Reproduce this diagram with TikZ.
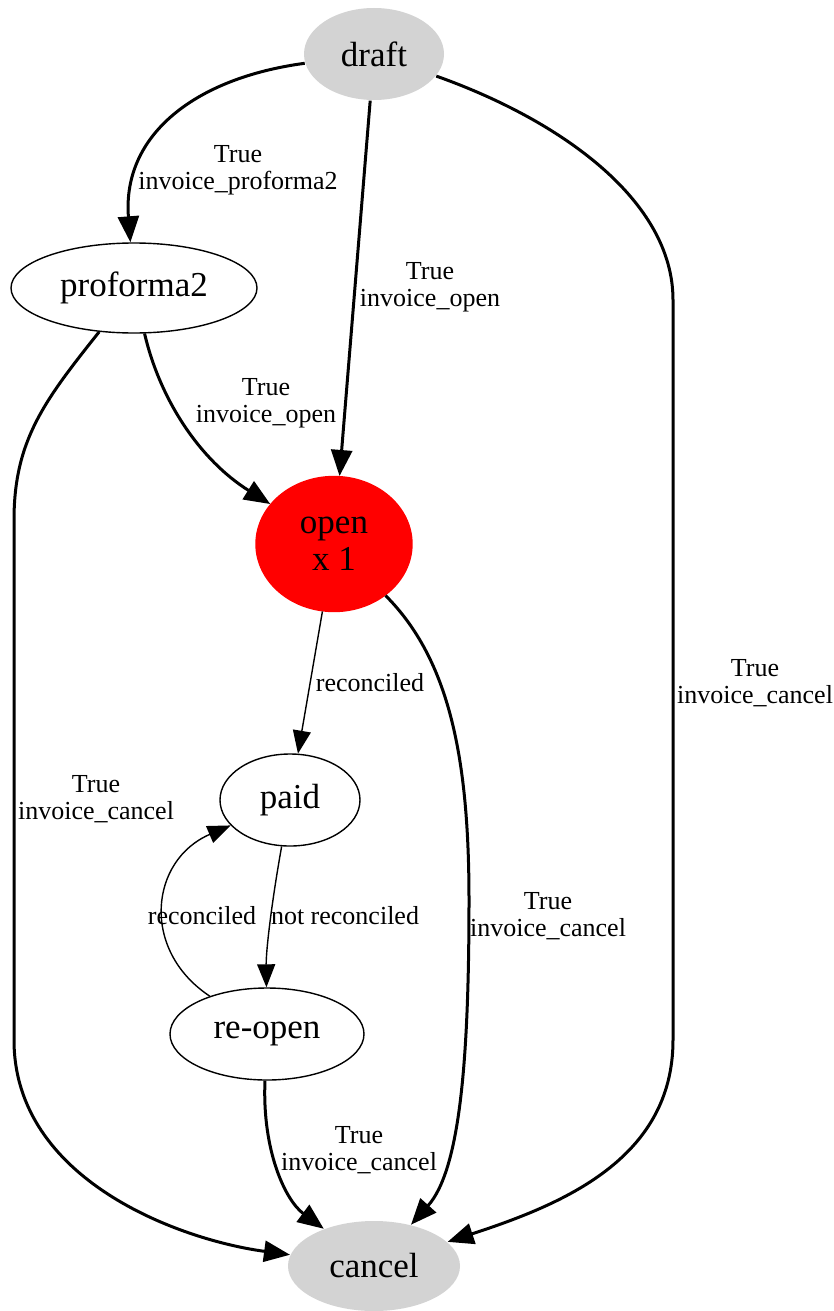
\documentclass[tikz,border=0pt]{standalone}
\usepackage{fontspec}
\setmainfont{Liberation Serif}
\usetikzlibrary{shapes.geometric,arrows.meta}
\definecolor{gvgrey}{HTML}{D3D3D3}

\begin{document}
\begin{tikzpicture}[x=0.5pt,y=-0.5pt,
	stnode/.style={ellipse,draw,line width=0.7pt,inner sep=0pt,align=center,font=\fontsize{17.5}{18.5}\selectfont},
	grayst/.style={stnode,draw=none,fill=gvgrey},
	redst/.style={stnode,draw=red,fill=red},
	elabel/.style={align=center,inner sep=0pt,font=\fontsize{13}{13.3}\selectfont},
	boldedge/.style={line width=1.5pt,-{Triangle[length=13pt,width=10.5pt]}},
	thinedge/.style={line width=0.7pt,-{Triangle[length=11.5pt,width=9pt]}}]
	\useasboundingbox (0,0) rectangle (834,1311);
	
	\node[grayst,minimum width=70pt,minimum height=46pt] (draft) at (374,54) {draft};
	\node[stnode,minimum width=123pt,minimum height=45pt] (proforma) at (134,288) {proforma2};
	\node[redst,minimum width=78pt,minimum height=67.5pt] (open) at (334,544) {open\\x 1};
	\node[stnode,minimum width=70pt,minimum height=46pt] (paid) at (290,800) {paid};
	\node[stnode,minimum width=97pt,minimum height=46pt] (reopen) at (267,1034) {re-open};
	\node[grayst,minimum width=86pt,minimum height=45pt] (cancel) at (374,1266) {cancel};
	
	\draw [boldedge] (draft) .. controls (195,78) and (122,135) .. (proforma);
	\draw [boldedge] (draft) -- (open);
	\draw [boldedge] (draft) .. controls (560,120) and (673,200) .. (673,300) -- (673,1040) .. controls (673,1160) and (560,1205) .. (cancel);
	\draw [boldedge] (proforma) .. controls (160,400) and (200,460) .. (open);
	\draw [boldedge] (proforma) .. controls (45,400) and (14,440) .. (14,520) -- (14,1040) .. controls (14,1180) and (180,1240) .. (cancel);
	\draw [thinedge] (open) -- (paid);
	\draw [boldedge] (open) .. controls (450,660) and (469,760) .. (469,900) .. controls (469,1060) and (460,1170) .. (cancel);
	\draw [thinedge] (paid) .. controls (272,900) and (266,950) .. (reopen);
	\draw [thinedge] (reopen) .. controls (140,950) and (150,860) .. (paid);
	\draw [boldedge] (reopen) .. controls (262,1150) and (285,1200) .. (cancel);
	
	\node[elabel] (l-dp) at (238,170) {True\\invoice\_proforma2};
	\node[elabel] (l-do) at (430,287) {True\\invoice\_open};
	\node[elabel] (l-dc) at (755,683) {True\\invoice\_cancel};
	\node[elabel] (l-po) at (266,403) {True\\invoice\_open};
	\node[elabel] (l-pc) at (96,799) {True\\invoice\_cancel};
	\node[elabel] (l-op) at (370,683) {reconciled};
	\node[elabel] (l-oc) at (548,916) {True\\invoice\_cancel};
	\node[elabel] (l-pr) at (345,916) {not reconciled};
	\node[elabel] (l-rp) at (202,916) {reconciled};
	\node[elabel] (l-rc) at (359,1150) {True\\invoice\_cancel};
\end{tikzpicture}
\end{document}
